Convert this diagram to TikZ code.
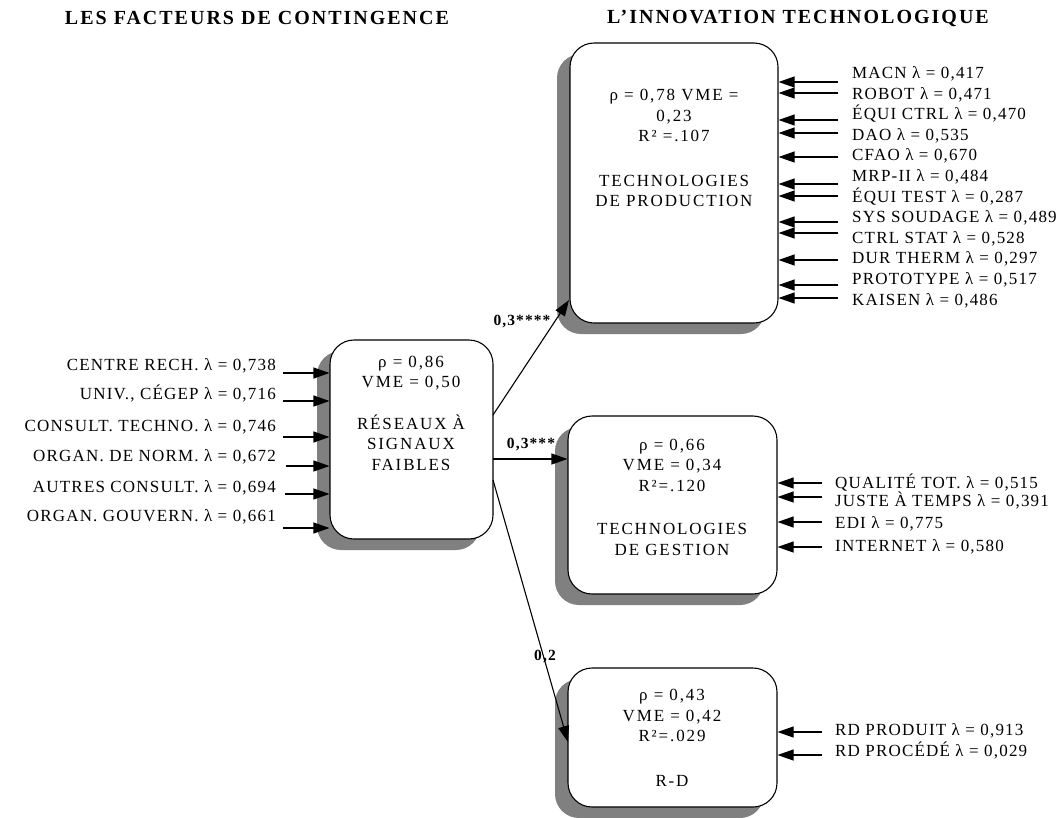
\documentclass[tikz,border=0pt]{standalone}
\usepackage{fontspec}
\setmainfont{Liberation Serif}[LetterSpace=7]
\newfontfamily\boxfont{Liberation Serif}[LetterSpace=11]
\newfontfamily\headfont{Liberation Serif}[LetterSpace=10]
\usetikzlibrary{arrows.meta,shadows}
\begin{document}
\begin{tikzpicture}[x=1pt,y=-1pt,
  box/.style={draw, line width=1.1pt, fill=white, rounded corners=24pt, inner sep=0pt,
    drop shadow={shadow xshift=-13pt,shadow yshift=-11pt,fill=black!50,opacity=1}},
  txt/.style={font={\boxfont\fontsize{17}{20.5}\selectfont}, align=center, inner sep=0pt},
  lab/.style={font=\fontsize{17}{20}\selectfont, inner sep=0pt},
  coef/.style={font=\fontsize{15.5}{18}\selectfont\bfseries, inner sep=0pt},
  head/.style={font={\headfont\fontsize{20}{24}\selectfont\bfseries}, inner sep=0pt},
  arr/.style={-{Triangle[length=16pt,width=11pt]}, line width=1.1pt},
]
\useasboundingbox (0,0) rectangle (1062,817);

% headings
\node[head] (h1) at (257,18) {LES FACTEURS DE CONTINGENCE};
\node[head] (h2) at (798,18) {L’INNOVATION TECHNOLOGIQUE};

% boxes
\node[box, minimum width=208pt, minimum height=280pt] (prod) at (674,183) {};
\node[box, minimum width=163pt, minimum height=199pt] (sig) at (411.5,439.5) {};
\node[box, minimum width=209pt, minimum height=178pt] (gest) at (672.5,505) {};
\node[box, minimum width=209pt, minimum height=139pt] (rd) at (672.5,737.5) {};

% box texts
\node[txt] (prodt) at (674,148) {ρ = 0,78 VME =\\0,23\\R² =.107\\[24pt]TECHNOLOGIES\\DE PRODUCTION};
\node[txt] (sigt) at (411,413) {ρ = 0,86\\VME = 0,50\\[21pt]RÉSEAUX À\\SIGNAUX\\FAIBLES};
\node[txt] (gestt) at (672,497) {ρ = 0,66\\VME = 0,34\\R²=.120\\[23pt]TECHNOLOGIES\\DE GESTION};
\node[txt] (rdt) at (672,738) {ρ = 0,43\\VME = 0,42\\R²=.029\\[24pt]R-D};

% left inputs
\node[lab, anchor=base east] (i1) at (276,370.5) {CENTRE RECH. λ = 0,738};
\node[lab, anchor=base east] (i2) at (276,399.5) {UNIV., CÉGEP λ = 0,716};
\node[lab, anchor=base east] (i3) at (276,431.5) {CONSULT. TECHNO. λ = 0,746};
\node[lab, anchor=base east] (i4) at (276,461.5) {ORGAN. DE NORM. λ = 0,672};
\node[lab, anchor=base east] (i5) at (276,492.5) {AUTRES CONSULT. λ = 0,694};
\node[lab, anchor=base east] (i6) at (276,521.5) {ORGAN. GOUVERN. λ = 0,661};
\coordinate (l1) at (283,373);
\coordinate (l2) at (283,401);
\coordinate (l3) at (283,437);
\coordinate (l4) at (286,466);
\coordinate (l5) at (285,494);
\coordinate (l6) at (283,528);
\foreach \c in {l1,l2,l3,l4,l5,l6} \draw[arr] (\c) -- (\c -| sig.west);

% production inputs
\node[lab, anchor=base west] (p1) at (852,78.5) {MACN λ = 0,417};
\node[lab, anchor=base west] (p2) at (852,99.1) {ROBOT λ = 0,471};
\node[lab, anchor=base west] (p3) at (852,119.7) {ÉQUI CTRL λ = 0,470};
\node[lab, anchor=base west] (p4) at (852,140.3) {DAO λ = 0,535};
\node[lab, anchor=base west] (p5) at (852,160.9) {CFAO λ = 0,670};
\node[lab, anchor=base west] (p6) at (852,181.5) {MRP-II λ = 0,484};
\node[lab, anchor=base west] (p7) at (852,202.1) {ÉQUI TEST λ = 0,287};
\node[lab, anchor=base west] (p8) at (852,222.7) {SYS SOUDAGE λ = 0,489};
\node[lab, anchor=base west] (p9) at (852,243.3) {CTRL STAT λ = 0,528};
\node[lab, anchor=base west] (p10) at (852,263.9) {DUR THERM λ = 0,297};
\node[lab, anchor=base west] (p11) at (852,284.5) {PROTOTYPE λ = 0,517};
\node[lab, anchor=base west] (p12) at (852,305.1) {KAISEN λ = 0,486};
\foreach \n/\y in {1/82,2/93,3/120,4/133,5/157,6/184,7/196,8/222,9/233,10/260,11/285,12/298}{
  \coordinate (q\n) at (838,\y);
  \draw[arr] (q\n) -- (q\n -| prod.east);
}

% gestion inputs
\node[lab, anchor=base west] (g1) at (835,488.5) {QUALITÉ TOT. λ = 0,515};
\node[lab, anchor=base west] (g2) at (835,506.5) {JUSTE À TEMPS λ = 0,391};
\node[lab, anchor=base west] (g3) at (835,528.5) {EDI λ = 0,775};
\node[lab, anchor=base west] (g4) at (835,551.5) {INTERNET λ = 0,580};
\foreach \n/\y in {1/483,2/497,3/522,4/547}{
  \coordinate (h\n) at (822,\y);
  \draw[arr] (h\n) -- (h\n -| gest.east);
}

% R-D inputs
\node[lab, anchor=base west] (r1) at (835,735.5) {RD PRODUIT λ = 0,913};
\node[lab, anchor=base west] (r2) at (835,756.5) {RD PROCÉDÉ λ = 0,029};
\foreach \n/\y in {1/732,2/755}{
  \coordinate (k\n) at (822,\y);
  \draw[arr] (k\n) -- (k\n -| rd.east);
}

% paths between constructs
\coordinate (s1) at (493,415);
\coordinate (e1) at (569,300);
\coordinate (s2) at (493,459);
\coordinate (s3) at (493,480);
\coordinate (e3) at (568,742);
\draw[arr] (s1) -- (e1);
\draw[arr] (s2) -- (s2 -| gest.west);
\draw[arr] (s3) -- (e3);
\node[coef] (c1) at (522,322) {0,3****};
\node[coef] (c2) at (531,445) {0,3***};
\node[coef] (c3) at (545,657) {0,2};
\end{tikzpicture}
\end{document}
